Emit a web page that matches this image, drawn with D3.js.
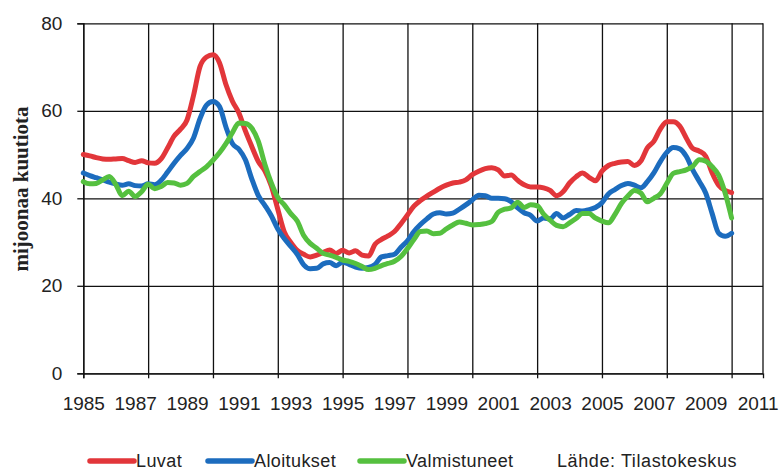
<!DOCTYPE html>
<html>
<head>
<meta charset="utf-8">
<script src="https://cdn.jsdelivr.net/npm/d3@7"></script>
<style>
  body { margin: 0; background: #fff; }
  svg text { font-family: "Liberation Sans", Arial, sans-serif; fill: #222; }
</style>
</head>
<body>
<div id="chart"></div>
<script>
// -DATA-
// x labels (odd years) and grid positions (every 2.5 years)
const yearLabels = [1985, 1987, 1989, 1991, 1993, 1995, 1997, 1999, 2001, 2003, 2005, 2007, 2009, 2011];
const gridYears = [1985, 1987.5, 1990, 1992.5, 1995, 1997.5, 2000, 2002.5, 2005, 2007.5, 2010];
const yTicks = [0, 20, 40, 60, 80];

// quarterly time points 1985 Q1 .. 2010 Q1
const quarters = d3.range(101).map(i => 1985 + i / 4);

// million cubic metres
const luvat = [
  50.0, 49.7, 49.3, 49.0, 48.9, 49.0, 49.1, 48.6, 48.2, 48.6,
  48.1, 48.0, 49.0, 51.5, 54.2, 55.8, 57.9, 63.5, 70.1, 72.3,
  72.8, 71.0, 66.0, 62.2, 59.5, 55.4, 51.8, 48.4, 46.3, 42.8,
  37.5, 32.3, 29.9, 28.1, 27.2, 26.6, 27.0, 27.6, 28.2, 27.4,
  28.1, 27.5, 28.0, 27.0, 26.8, 29.5, 30.6, 31.4, 32.4, 34.2,
  36.2, 38.2, 39.5, 40.5, 41.4, 42.3, 43.0, 43.5, 43.7, 44.2,
  45.4, 46.2, 46.8, 47.0, 46.5, 45.1, 45.3, 44.1, 43.1, 42.6,
  42.6, 42.4, 41.8, 40.6, 41.5, 43.5, 44.9, 45.8, 44.8, 44.0,
  46.2, 47.5, 48.0, 48.3, 48.4, 47.5, 48.5, 51.5, 53.0, 55.8,
  57.5, 57.5, 56.5, 53.8, 51.4, 50.8, 49.6, 45.8, 43.0, 41.8,
  41.3
];
const aloitukset = [
  45.8, 45.2, 44.7, 44.2, 43.7, 43.3, 43.0, 43.3, 42.9, 42.8,
  43.3, 43.1, 44.1, 46.0, 48.0, 49.8, 51.4, 53.8, 58.2, 61.3,
  62.1, 61.0, 56.3, 52.5, 51.2, 48.8, 44.4, 40.6, 38.4, 36.0,
  33.0, 30.8, 29.0, 27.2, 24.8, 23.9, 24.0, 25.0, 25.3, 24.6,
  25.4, 24.9, 24.3, 24.0, 24.2, 24.9, 26.6, 26.9, 27.2, 28.8,
  30.3, 32.4, 34.0, 35.3, 36.4, 36.7, 36.4, 36.6, 37.5, 38.5,
  39.6, 40.7, 40.6, 40.0, 40.0, 39.9, 39.2, 37.8, 36.7, 36.1,
  34.8, 35.5, 35.3, 36.5, 35.5, 36.3, 37.2, 37.1, 37.4, 37.9,
  39.0, 41.0, 42.0, 42.9, 43.4, 43.0, 42.4, 43.8, 45.8, 48.4,
  50.5, 51.6, 51.3, 49.6, 46.5, 43.9, 41.2, 36.5, 32.0, 31.3,
  32.0
];
const valmistuneet = [
  43.8, 43.3, 43.4, 44.2, 45.0, 43.2, 40.6, 41.6, 40.4, 41.5,
  43.2, 42.2, 42.7, 43.6, 43.5, 43.0, 43.4, 45.0, 46.1, 47.2,
  48.7, 50.4, 52.5, 55.0, 57.2, 57.1, 56.0, 53.0, 47.8, 43.5,
  40.2, 38.5, 36.5, 34.8, 31.5, 29.7, 28.6, 27.4, 27.0, 26.5,
  25.9, 25.6, 25.1, 24.4, 23.7, 24.0, 24.6, 25.1, 25.6, 26.7,
  28.5, 30.6, 32.4, 32.5, 31.9, 32.0, 33.0, 33.9, 34.6, 34.3,
  33.9, 34.0, 34.2, 34.7, 36.8, 37.5, 37.8, 39.1, 37.9, 38.5,
  38.3, 36.4, 35.0, 33.8, 33.5, 34.4, 35.4, 36.5, 36.5, 35.5,
  34.8, 34.4, 36.3, 38.8, 40.5, 41.8, 41.2, 39.2, 40.0, 41.0,
  43.4, 45.7, 46.1, 46.5, 47.3, 48.8, 48.5, 47.2, 45.3, 41.2,
  35.5
];

const seriesNames = ["Luvat", "Aloitukset", "Valmistuneet"];
const seriesColors = ["#e2363a", "#1c6cbe", "#55c03f"];

// -SIZES-
const svg_w = 781;
const svg_h = 470;
const plotLeft = 83.3;
const plotRight = 763;
const plotTop = 23.3;
const plotBottom = 373.3;

// -SCALES-
const xScale = d3.scaleLinear()
    .domain([1985, 2011.21])
    .range([plotLeft, plotRight]);

const yScale = d3.scaleLinear()
    .domain([0, 80])
    .range([plotBottom, plotTop]);

const svg = d3.select("#chart")
    .append("svg")
    .attr("width", svg_w)
    .attr("height", svg_h);

// -GRID-
// horizontal grid
svg.append("g")
    .attr("transform", "translate(" + plotLeft + ",0)")
    .call(d3.axisLeft(yScale).tickValues(yTicks).tickSize(-(plotRight - plotLeft)).tickFormat(""))
    .call(g => g.select(".domain").remove())
    .selectAll("line").attr("stroke", "#111").attr("stroke-width", 1.3);

// vertical grid
svg.append("g")
    .attr("transform", "translate(0," + plotBottom + ")")
    .call(d3.axisBottom(xScale).tickValues(gridYears).tickSize(-(plotBottom - plotTop)).tickFormat(""))
    .call(g => g.select(".domain").remove())
    .selectAll("line").attr("stroke", "#111").attr("stroke-width", 1.3);

// right border
svg.append("line")
    .attr("x1", plotRight).attr("x2", plotRight)
    .attr("y1", plotTop).attr("y2", plotBottom)
    .attr("stroke", "#111").attr("stroke-width", 1.3);

// -AXES-
const yAxis = svg.append("g")
    .attr("transform", "translate(" + plotLeft + ",0)")
    .call(d3.axisLeft(yScale).tickValues(yTicks).tickSize(6).tickPadding(15));
yAxis.selectAll("line, path").attr("stroke", "#111").attr("stroke-width", 1.3);
yAxis.selectAll("text").attr("font-size", "19px").attr("fill", "#222")
    .style("font-family", "'Liberation Sans', Arial, sans-serif");

const xTicks = svg.append("g")
    .attr("transform", "translate(0," + plotBottom + ")")
    .call(d3.axisBottom(xScale).tickValues(gridYears).tickSize(5).tickFormat(""));
xTicks.selectAll("line, path").attr("stroke", "#111").attr("stroke-width", 1.3);

const xLabels = svg.append("g")
    .attr("transform", "translate(0," + plotBottom + ")")
    .call(d3.axisBottom(xScale).tickValues(yearLabels).tickSize(0).tickPadding(23).tickFormat(d3.format("d")));
xLabels.select(".domain").remove();
xLabels.selectAll("text").attr("font-size", "19px").attr("fill", "#222")
    .style("font-family", "'Liberation Sans', Arial, sans-serif");

// -LINES-
const allSeries = [luvat, aloitukset, valmistuneet];
const line = d3.line()
    .x((d, i) => xScale(quarters[i]))
    .y(d => yScale(d))
    .curve(d3.curveMonotoneX);

svg.selectAll(".series")
    .data(allSeries)
    .enter()
    .append("path")
    .attr("class", "series")
    .attr("d", d => line(d))
    .attr("fill", "none")
    .attr("stroke", (d, i) => seriesColors[i])
    .attr("stroke-width", 5)
    .attr("stroke-linejoin", "round")
    .attr("stroke-linecap", "round");

// -Y TITLE-
svg.append("text")
    .attr("transform", "translate(28,189) rotate(-90)")
    .attr("text-anchor", "middle")
    .style("font-family", "'Liberation Serif', 'Times New Roman', serif")
    .style("font-weight", "bold")
    .attr("font-size", "21px")
    .attr("fill", "#111")
    .text("mijoonaa kuutiota");

// -LEGEND-
const legendX = [90, 208, 360];
const legendY = 461;
const legend = svg.selectAll(".legend")
    .data(seriesNames)
    .enter()
    .append("g")
    .attr("class", "legend")
    .attr("transform", (d, i) => "translate(" + legendX[i] + "," + legendY + ")");

legend.append("line")
    .attr("x1", 0).attr("x2", 44)
    .attr("stroke", (d, i) => seriesColors[i])
    .attr("stroke-width", 5.5)
    .attr("stroke-linecap", "round");

legend.append("text")
    .attr("x", 46)
    .attr("dy", "0.35em")
    .attr("font-size", "18px")
    .attr("letter-spacing", "0.4px")
    .text(d => d);

svg.append("text")
    .attr("x", 557)
    .attr("y", legendY)
    .attr("dy", "0.35em")
    .attr("font-size", "18px")
    .attr("letter-spacing", "0.6px")
    .text("Lähde: Tilastokeskus");
</script>
</body>
</html>
